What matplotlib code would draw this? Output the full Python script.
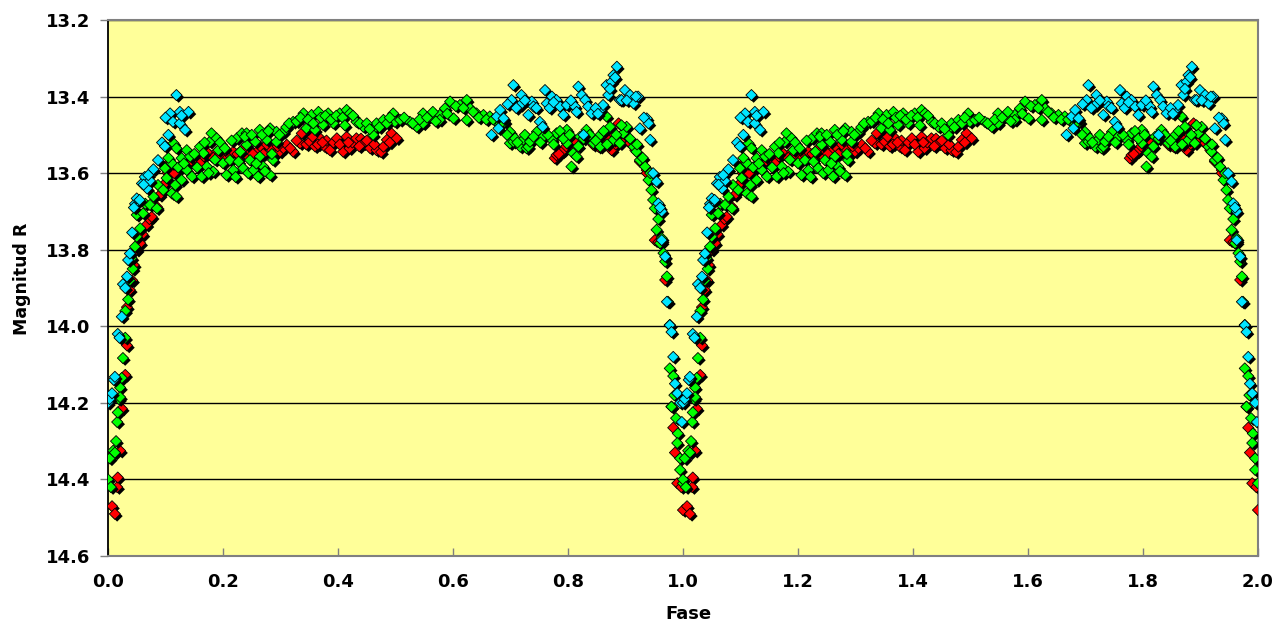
import matplotlib
matplotlib.use("Agg")
import matplotlib.pyplot as plt
import matplotlib.patheffects as pe
import numpy as np

# ---------------------------------------------------------------------------
# Data (one cycle, phase 0..1).
# The chart shows the same cycle twice: phase and phase + 1.
# ---------------------------------------------------------------------------
red_phase = [0.007, 0.012, 0.016, 0.017, 0.021, 0.024, 0.030, 0.033, 0.033, 0.038,
             0.042, 0.045, 0.050, 0.056, 0.060, 0.067, 0.072, 0.076, 0.085, 0.090,
             0.095, 0.099, 0.104, 0.108, 0.117, 0.125, 0.135, 0.143, 0.155, 0.166,
             0.177, 0.189, 0.200, 0.210, 0.218, 0.230, 0.241, 0.247, 0.259, 0.265,
             0.270, 0.282, 0.290, 0.299, 0.305, 0.311, 0.322, 0.334, 0.337, 0.345,
             0.351, 0.360, 0.369, 0.377, 0.380, 0.386, 0.392, 0.398, 0.409, 0.415,
             0.420, 0.425, 0.432, 0.440, 0.444, 0.456, 0.460, 0.467, 0.475, 0.479,
             0.485, 0.493, 0.502,
             0.777, 0.780, 0.789, 0.792, 0.806, 0.809, 0.844, 0.853, 0.873, 0.873,
             0.876, 0.888, 0.905, 0.908, 0.925, 0.937, 0.937, 0.951, 0.963, 0.969,
             0.977, 0.980, 0.983, 0.986, 0.990, 0.997, 1.000]
red_mag = [14.47, 14.49, 14.42, 14.395, 14.325, 14.215, 14.127, 14.05, 13.95, 13.905,
           13.88, 13.84, 13.80, 13.783, 13.76, 13.735, 13.72, 13.714, 13.688, 13.657,
           13.64, 13.627, 13.60, 13.57, 13.587, 13.587, 13.58, 13.57, 13.565, 13.557,
           13.553, 13.544, 13.56, 13.55, 13.544, 13.557, 13.553, 13.54, 13.544, 13.53,
           13.55, 13.535, 13.55, 13.544, 13.535, 13.526, 13.544, 13.522, 13.496, 13.525,
           13.518, 13.53, 13.509, 13.531, 13.515, 13.54, 13.52, 13.509, 13.544, 13.505,
           13.535, 13.52, 13.509, 13.51, 13.522, 13.535, 13.52, 13.54, 13.545, 13.531,
           13.513, 13.496, 13.509,
           13.561, 13.553, 13.544, 13.54, 13.526, 13.522, 13.526, 13.531, 13.496, 13.535,
           13.54, 13.47, 13.518, 13.522, 13.57, 13.592, 13.60, 13.775, 13.78, 13.879,
           13.997, 14.21, 14.265, 14.33, 14.41, 14.42, 14.48]
# second pass of readings inside the dense part of the red band
red_phase_b = [0.115, 0.130, 0.148, 0.160, 0.172, 0.183, 0.195, 0.205, 0.225, 0.236,
               0.252, 0.276, 0.295, 0.317, 0.328, 0.356, 0.365, 0.373, 0.403, 0.418,
               0.437, 0.450, 0.463, 0.490, 0.784, 0.797, 0.815, 0.860, 0.868, 0.883,
               0.895, 0.917, 0.957]
red_mag_b = [13.60, 13.575, 13.555, 13.575, 13.545, 13.56, 13.55, 13.54, 13.55, 13.535,
             13.55, 13.525, 13.53, 13.535, 13.515, 13.505, 13.525, 13.52, 13.525, 13.52,
             13.53, 13.515, 13.525, 13.52, 13.55, 13.53, 13.52, 13.525, 13.51, 13.525,
             13.51, 13.54, 13.78]

green_phase = [0.000, 0.003, 0.005, 0.009, 0.012, 0.014, 0.016, 0.017, 0.019, 0.021,
               0.021, 0.024, 0.026, 0.030, 0.030, 0.035, 0.038, 0.041, 0.043, 0.047,
               0.050, 0.050, 0.056, 0.061, 0.065, 0.073, 0.079, 0.085, 0.087, 0.096,
               0.099, 0.102, 0.111, 0.111, 0.114, 0.117, 0.119, 0.119, 0.128, 0.128,
               0.137, 0.137, 0.143, 0.146, 0.160, 0.163, 0.166, 0.172, 0.177, 0.180,
               0.183, 0.189, 0.192, 0.200, 0.206, 0.212, 0.218, 0.224, 0.230, 0.233,
               0.235, 0.241, 0.241, 0.244, 0.247, 0.253, 0.256, 0.261, 0.264, 0.264,
               0.270, 0.276, 0.282, 0.282, 0.287, 0.293, 0.293, 0.305, 0.322, 0.340,
               0.345, 0.354, 0.360, 0.366, 0.374, 0.383, 0.392, 0.403, 0.415, 0.421,
               0.432, 0.444, 0.461, 0.461, 0.467, 0.479, 0.496, 0.499, 0.508, 0.525,
               0.537, 0.548, 0.548, 0.560, 0.577, 0.577, 0.586, 0.595, 0.601, 0.612,
               0.624, 0.624, 0.630, 0.641, 0.653, 0.664, 0.676, 0.690, 0.699, 0.699,
               0.705, 0.708, 0.717, 0.722, 0.728, 0.731, 0.734, 0.746, 0.757, 0.772,
               0.780, 0.798, 0.798, 0.806, 0.809, 0.815, 0.821, 0.832, 0.844, 0.853,
               0.856, 0.867, 0.873, 0.879, 0.890, 0.896, 0.902, 0.914, 0.919, 0.925,
               0.934, 0.940, 0.945, 0.948, 0.951, 0.954, 0.960, 0.966, 0.969, 0.972,
               0.974, 0.977, 0.977, 0.983, 0.980, 0.991, 0.990, 0.995, 0.995, 1.000]
green_mag = [14.40, 14.345, 14.42, 14.325, 14.33, 14.30, 14.25, 14.225, 14.19, 14.16,
             14.185, 14.135, 14.083, 14.03, 13.96, 13.93, 13.88, 13.822, 13.85, 13.792,
             13.766, 13.709, 13.744, 13.705, 13.68, 13.683, 13.661, 13.692, 13.631, 13.644,
             13.587, 13.613, 13.653, 13.574, 13.522, 13.631, 13.661, 13.535, 13.618, 13.561,
             13.592, 13.54, 13.557, 13.609, 13.531, 13.609, 13.548, 13.583, 13.518, 13.496,
             13.596, 13.509, 13.54, 13.574, 13.605, 13.566, 13.592, 13.509, 13.544, 13.496,
             13.587, 13.526, 13.496, 13.60, 13.566, 13.592, 13.518, 13.609, 13.557, 13.487,
             13.583, 13.513, 13.483, 13.605, 13.566, 13.492, 13.518, 13.492, 13.466, 13.444,
             13.483, 13.448, 13.487, 13.44, 13.474, 13.444, 13.47, 13.444, 13.435, 13.444,
             13.466, 13.479, 13.487, 13.50, 13.47, 13.461, 13.444, 13.466, 13.461, 13.466,
             13.479, 13.444, 13.47, 13.452, 13.448, 13.461, 13.431, 13.413, 13.457, 13.422,
             13.409, 13.461, 13.431, 13.444, 13.448, 13.452, 13.466, 13.466, 13.492, 13.522,
             13.518, 13.509, 13.531, 13.513, 13.535, 13.531, 13.518, 13.492, 13.505, 13.513,
             13.496, 13.487, 13.522, 13.583, 13.548, 13.557, 13.505, 13.487, 13.522, 13.505,
             13.531, 13.452, 13.479, 13.513, 13.522, 13.496, 13.479, 13.531, 13.544, 13.566,
             13.583, 13.618, 13.644, 13.67, 13.692, 13.748, 13.783, 13.809, 13.831, 13.87,
             13.936, 13.997, 14.11, 14.13, 14.21, 14.28, 14.305, 14.345, 14.375, 14.41]
green_phase_b = [0.105, 0.122, 0.132, 0.150, 0.155, 0.168, 0.175, 0.186, 0.195, 0.203,
                 0.215, 0.222, 0.227, 0.238, 0.250, 0.258, 0.268, 0.273, 0.279, 0.285,
                 0.298, 0.310, 0.315, 0.328, 0.335, 0.348, 0.357, 0.370, 0.378, 0.388,
                 0.397, 0.408, 0.412, 0.426, 0.438, 0.450, 0.455, 0.472, 0.485, 0.490,
                 0.515, 0.530, 0.542, 0.555, 0.565, 0.570, 0.590, 0.605, 0.618, 0.635,
                 0.645, 0.658, 0.670, 0.683, 0.694, 0.712, 0.725, 0.740, 0.752, 0.765,
                 0.775, 0.786, 0.792, 0.803, 0.818, 0.827, 0.838, 0.848, 0.862, 0.868,
                 0.884, 0.893, 0.908, 0.920, 0.930, 0.943, 0.957, 0.963, 0.985, 0.988]
green_mag_b = [13.56, 13.585, 13.575, 13.55, 13.585, 13.52, 13.60, 13.565, 13.52, 13.535,
               13.515, 13.61, 13.57, 13.505, 13.50, 13.575, 13.50, 13.595, 13.49, 13.55,
               13.50, 13.48, 13.47, 13.465, 13.455, 13.46, 13.47, 13.455, 13.45, 13.46,
               13.45, 13.455, 13.475, 13.45, 13.47, 13.47, 13.485, 13.48, 13.47, 13.455,
               13.455, 13.47, 13.46, 13.455, 13.44, 13.465, 13.445, 13.425, 13.43, 13.44,
               13.455, 13.46, 13.46, 13.47, 13.50, 13.52, 13.50, 13.505, 13.52, 13.50,
               13.525, 13.49, 13.51, 13.50, 13.53, 13.51, 13.50, 13.515, 13.49, 13.525,
               13.50, 13.475, 13.51, 13.525, 13.56, 13.60, 13.72, 13.77, 14.18, 14.24]

cyan_phase = [0.000, 0.003, 0.007, 0.010, 0.012, 0.017, 0.020, 0.024, 0.026, 0.033,
              0.035, 0.038, 0.042, 0.047, 0.050, 0.055, 0.059, 0.064, 0.068, 0.073,
              0.079, 0.087, 0.094, 0.099, 0.105, 0.108, 0.113, 0.119, 0.125, 0.125,
              0.134, 0.140,
              0.667, 0.676, 0.679, 0.682, 0.688, 0.702, 0.705, 0.717, 0.719, 0.731,
              0.737, 0.740, 0.751, 0.756, 0.760, 0.763, 0.772, 0.780, 0.786, 0.792,
              0.798, 0.812, 0.818, 0.824, 0.827, 0.830, 0.835, 0.841, 0.856, 0.861,
              0.867, 0.870, 0.876, 0.879, 0.885, 0.890, 0.893, 0.899, 0.908, 0.914,
              0.922, 0.925, 0.937, 0.940, 0.943, 0.948, 0.954, 0.957, 0.963, 0.963,
              0.969, 0.972, 0.977, 0.980, 0.983, 0.986, 0.990, 0.995, 0.998]
cyan_mag = [14.20, 14.19, 14.175, 14.14, 14.132, 14.02, 14.03, 13.975, 13.89, 13.87,
            13.827, 13.81, 13.755, 13.68, 13.666, 13.67, 13.627, 13.61, 13.64, 13.62,
            13.59, 13.566, 13.52, 13.53, 13.50, 13.444, 13.466, 13.396, 13.44, 13.47,
            13.487, 13.44,
            13.50, 13.452, 13.483, 13.435, 13.457, 13.409, 13.37, 13.422, 13.396, 13.448,
            13.413, 13.426, 13.466, 13.479, 13.383, 13.418, 13.40, 13.409, 13.426, 13.448,
            13.422, 13.426, 13.374, 13.396, 13.50, 13.409, 13.426, 13.444, 13.435, 13.422,
            13.37, 13.396, 13.361, 13.344, 13.322, 13.409, 13.409, 13.383, 13.396, 13.418,
            13.40, 13.483, 13.457, 13.47, 13.513, 13.60, 13.622, 13.679, 13.70, 13.775,
            13.818, 13.936, 13.997, 14.015, 14.08, 14.15, 14.175, 14.20, 14.25]
cyan_phase_b = [0.030, 0.045, 0.062, 0.070, 0.100, 0.128, 0.695, 0.710, 0.725, 0.745,
                0.768, 0.775, 0.805, 0.815, 0.848, 0.852, 0.873, 0.882, 0.902, 0.918,
                0.932, 0.960]
cyan_mag_b = [13.90, 13.69, 13.63, 13.605, 13.455, 13.45, 13.42, 13.43, 13.41, 13.43,
              13.43, 13.415, 13.41, 13.44, 13.43, 13.445, 13.38, 13.35, 13.41, 13.40,
              13.455, 13.69]

series = [
    (red_phase + red_phase_b, red_mag + red_mag_b, "#FF0000"),
    (green_phase + green_phase_b, green_mag + green_mag_b, "#00FF00"),
    (cyan_phase + cyan_phase_b, cyan_mag + cyan_mag_b, "#00E6FF"),
]

x_ticks = [0.0, 0.2, 0.4, 0.6, 0.8, 1.0, 1.2, 1.4, 1.6, 1.8, 2.0]
y_ticks = [13.2, 13.4, 13.6, 13.8, 14.0, 14.2, 14.4, 14.6]


def main():
    fig = plt.figure(figsize=(12.87, 6.23), dpi=100)
    ax = fig.add_axes([108 / 1287, 1 - 556 / 623, 1150 / 1287, 536 / 623])
    ax.set_facecolor("#FFFF99")

    shadow = [pe.SimplePatchShadow(offset=(1.6, -1.6), shadow_rgbFace="black", alpha=1.0),
              pe.Normal()]
    for ph, mag, col in series:
        ph = np.asarray(ph)
        mag = np.asarray(mag)
        for shift in (0.0, 1.0):
            sc = ax.scatter(ph + shift, mag, marker="D", s=32, c=col,
                            edgecolors="black", linewidths=0.6, zorder=3)
            sc.set_path_effects(shadow)

    ax.set_xlim(0, 2)
    ax.set_ylim(14.6, 13.2)
    ax.set_xticks(x_ticks)
    ax.set_yticks(y_ticks)
    ax.set_xticklabels([f"{v:.1f}" for v in x_ticks])
    ax.set_yticklabels([f"{v:.1f}" for v in y_ticks])
    ax.yaxis.grid(True, color="black", lw=1.0)
    ax.set_axisbelow(True)

    ax.tick_params(axis="x", direction="in", length=6, width=1, color="#808080",
                   pad=12, labelsize=13)
    ax.tick_params(axis="y", direction="out", length=6, width=1, color="#808080",
                   pad=7, labelsize=13)
    for lab in ax.get_xticklabels() + ax.get_yticklabels():
        lab.set_fontweight("bold")

    ax.spines["left"].set_color("black")
    ax.spines["left"].set_linewidth(1.3)
    for side in ("top", "right", "bottom"):
        ax.spines[side].set_color("#808080")
        ax.spines[side].set_linewidth(1.5)

    fig.text(22 / 1287, 1 - 279 / 623, "Magnitud R", rotation=90, ha="center",
             va="center", fontsize=12.5, fontweight="bold")
    fig.text(688 / 1287, 1 - 614 / 623, "Fase", ha="center", va="center",
             fontsize=13, fontweight="bold")

    fig.savefig("out.png", dpi=100)


if __name__ == "__main__":
    main()
